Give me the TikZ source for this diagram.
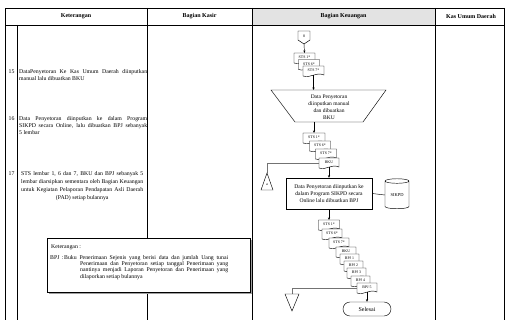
\documentclass[tikz,border=0pt]{standalone}
\usepackage{fontspec}
\setmainfont{Liberation Serif}
\usetikzlibrary{arrows.meta,shapes.geometric}
\newcommand\docshape[5]{%
  \begin{scope}[shift={(#2,#3)}]
    \draw[fl, fill=white] (0,0) -- (#4,0) -- (#4,9) .. controls ({0.6*#4},5.5) and ({0.4*#4},12.5) .. (0,10) -- cycle;
    \node[doclbl] (#1) at ({#4/2},4.6) {#5};
    \coordinate (#1-t) at ({#4/2},0);
    \coordinate (#1-b) at ({#4/2},9.4);
    \coordinate (#1-l) at (0,5);
  \end{scope}}
\begin{document}
\begin{tikzpicture}[x=1pt,y=-1pt,
  tbl/.style={line width=0.8pt},
  fl/.style={line width=0.45pt},
  arr/.style={fl,-{Stealth[length=2.6pt,width=2.2pt]}},
  gline/.style={line width=0.45pt, draw=black!55},
  hdr/.style={font=\fontsize{6}{7}\selectfont\bfseries, inner sep=0},
  body/.style={font=\fontsize{5.8}{6.6}\selectfont, inner sep=0},
  notetxt/.style={font=\fontsize{5.8}{6.4}\selectfont, inner sep=0},
  doclbl/.style={font=\fontsize{3.9}{4.5}\selectfont, inner sep=0}]
\useasboundingbox (0,0) rectangle (505,320);
% ---------- table ----------
\fill[gray!22] (252,8) rectangle (435,25);
\draw[tbl] (504.6,8) -- (5.5,8) -- (5.5,320.5);
\draw[tbl] (5.5,25) -- (504.6,25);
\draw[tbl] (17,25) -- (17,320.5);
\draw[tbl] (147,8) -- (147,320.5);
\draw[tbl] (252,8) -- (252,320.5);
\draw[tbl] (435,8) -- (435,320.5);
\draw[tbl] (504.6,8) -- (504.6,320.5);
\node[hdr] (h1) at (76,16.5) {Keterangan};
\node[hdr] (h2) at (199.5,16.5) {Bagian Kasir};
\node[hdr] (h3) at (343.5,16.5) {Bagian Keuangan};
\node[hdr] (h4) at (471,16.5) {Kas Umum Daerah};
% ---------- left column texts ----------
\node[body, anchor=base] (n15) at (11.5,74) {15};
\node[body, anchor=base west, text width=128pt, align=justify] (t15) at (19,74)
  {DataPenyetoran Ke Kas Umum Daerah diinputkan\linebreak manual lalu dibuatkan BKU};
\node[body, anchor=base] (n16) at (11.5,121) {16};
\node[body, anchor=base west, text width=128pt, align=justify] (t16) at (19,121)
  {Data Penyetoran diinputkan ke dalam Program\linebreak SIKPD secara Online, lalu dibuatkan BPJ sebanyak\linebreak 5 lembar};
\node[body, anchor=base] (n17) at (11.5,176) {17};
\node[anchor=base west, text width=122pt, align=justify, font=\fontsize{5.8}{8}\selectfont, inner sep=0] (t17) at (21,176)
  {{\parfillskip=0pt STS lembar 1, 6 dan 7, BKU dan BPJ sebanyak 5\linebreak lembar diarsipkan sementara oleh Bagian Keuangan\linebreak untuk Kegiatan Pelaporan Pendapatan Asli Daerah\par}{\centering (PAD) setiap bulannya\par}};
% ---------- note box ----------
\fill[gray!75] (49,240) rectangle (252,294);
\node[draw, fill=white, line width=0.6pt, anchor=north west, minimum width=203pt, minimum height=54pt, inner sep=0] (notebox) at (47,238) {};
\node[notetxt, anchor=base west] (kt) at (51,248) {Keterangan :};
\node[notetxt, anchor=base west] (bpj) at (50,259) {BPJ};
\node[notetxt, anchor=base west] (colon) at (61.5,259) {:};
\node[notetxt, anchor=base west, text width=164pt, align=justify] (bpj1) at (64,259)
  {{\parfillskip=0pt Buku Penerimaan Sejenis yang berisi data dan jumlah Uang tunai\par}};
\node[notetxt, anchor=base west, text width=148pt, align=justify] (bpj2) at (80,265.5)
  {Penerimaan dan Penyetoran setiap tanggal Penerimaan yang\linebreak nantinya menjadi Laporan Penyetoran dan Penerimaan yang\linebreak dilaporkan setiap bulannya};
% ---------- flowchart (Bagian Keuangan) ----------
% off-page connector
\draw[fl, fill=white] (298,31) -- (310,31) -- (310,40) -- (304,44) -- (298,40) -- cycle;
\node[doclbl] (c8) at (304,36.5) {8};
\coordinate (c8b) at (304,44);
% stack 1
\docshape{s1a}{294}{53}{21}{STS 1*}
\docshape{s1b}{298.5}{59.5}{21}{STS 6*}
\docshape{s1c}{303}{66}{21}{STS 7*}
\draw[arr] (c8b) -- (s1a-t);
% manual operation
\coordinate (trTL) at (271,90);
\coordinate (trTR) at (386,90);
\coordinate (trBR) at (363,122);
\coordinate (trBL) at (295,122);
\draw[fl, fill=white] (trTL) -- (trTR) -- (trBR) -- (trBL) -- cycle;
\node[font=\fontsize{5.5}{7}\selectfont, align=center, inner sep=0] (trap) at (329,107.5)
  {Data Penyetoran\\diinputkan manual\\dan dibuatkan\\BKU};
\coordinate (trIn) at (313.5,90);
\coordinate (trOut) at (314,122);
\draw[arr] (s1c-b) -- (trIn);
% stack 2
\docshape{s2a}{303}{133}{22}{STS 1*}
\docshape{s2b}{309.5}{141}{21}{STS 6*}
\docshape{s2c}{315.5}{149}{21}{STS 7*}
\docshape{s2d}{319}{158}{20}{BKU}
\draw[arr] (trOut) -- (s2a-t);
% connector to triangle a
\coordinate (taTop) at (267,173);
\draw[gline] (s2d-l) -| (taTop);
\draw[fl, fill=white] (taTop) -- (273,190) -- (261,190) -- cycle;
\node[doclbl] (ta) at (267,184.5) {a};
% process
\node[draw, fl, fill=white, minimum width=86pt, minimum height=31pt, inner sep=1pt, align=center,
  font=\fontsize{5.6}{7.2}\selectfont] (proc) at (329,193.5)
  {Data Penyetoran diinputkan ke\\dalam Program SIKPD secara\\Online lalu dibuatkan BPJ};
\draw[arr] (s2d-b) -- (s2d-b |- proc.north);
% database
\node[cylinder, shape border rotate=90, draw, fl, fill=white, aspect=0.35, minimum width=24pt, minimum height=30pt, inner sep=0,
  font=\fontsize{4.5}{5}\selectfont] (db) at (397,195) {SIKPD};
\draw[fl] (proc.east) -- (db.west);
% stack 3
\coordinate (tbTop) at (292,294);
\docshape{s3a}{318.5}{220}{21}{STS 1*}
\docshape{s3b}{322}{229}{20}{STS 6*}
\docshape{s3c}{329}{238}{20}{STS 7*}
\docshape{s3d}{336}{247}{20}{BKU}
\docshape{s3e}{340}{254}{19}{BPJ 1}
\docshape{s3f}{344}{261}{19}{BPJ 2}
\docshape{s3g}{347}{268}{19}{BPJ 3}
\docshape{s3h}{351}{276}{19}{BPJ 4}
\docshape{s3i}{357}{283}{20}{BPJ 5}
\draw[gline] (s3i-l) -| (tbTop);
\draw[arr] (proc.south) -- (s3a-t);
\draw[fl, fill=white] (tbTop) ++(-7,0) -- ++(14,0) -- (292,311) -- cycle;
% terminator
\node[draw, fl, fill=white, rounded corners=7pt, minimum width=48pt, minimum height=14pt, inner sep=0,
  font=\fontsize{6}{7}\selectfont] (end) at (367,309) {Selesai};
\draw[arr] (s3i-b) -- (end.north);
\end{tikzpicture}
\end{document}
